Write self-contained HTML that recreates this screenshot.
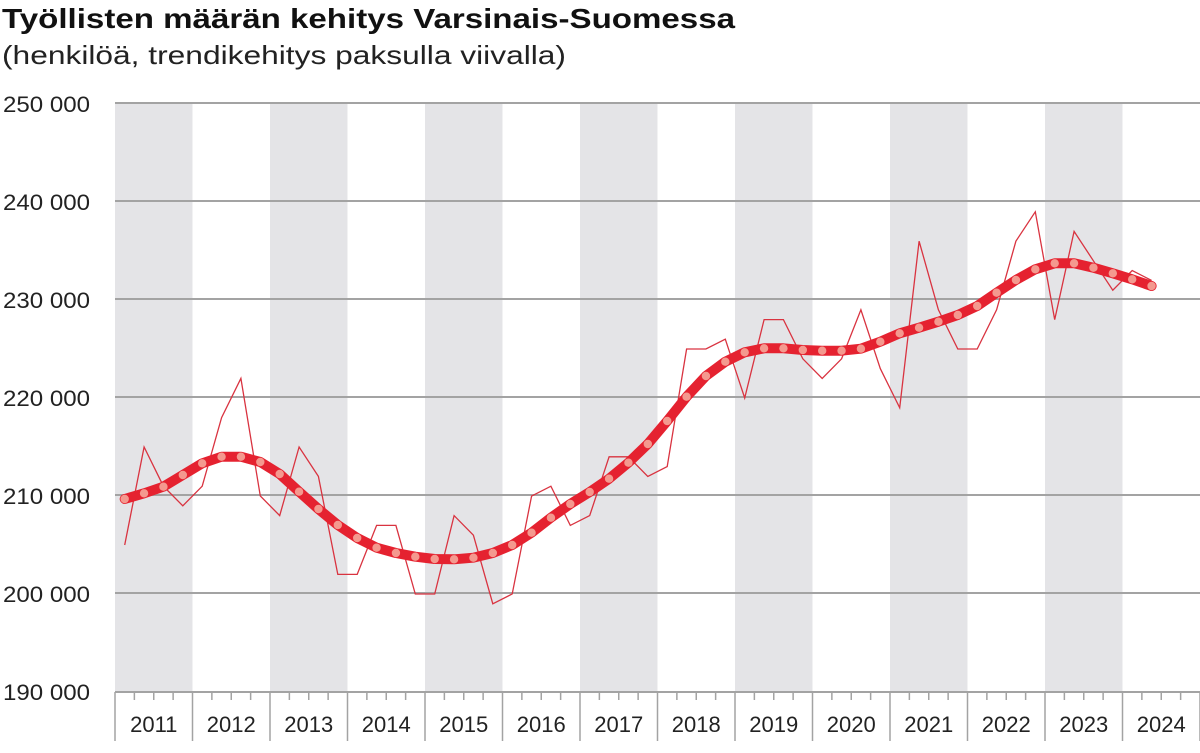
<!DOCTYPE html>
<html><head><meta charset="utf-8"><style>
html,body{margin:0;padding:0;background:#fff;}
svg{display:block;font-family:"Liberation Sans",sans-serif;}
</style></head><body>
<svg width="1200" height="753" viewBox="0 0 1200 753" xmlns="http://www.w3.org/2000/svg">
<rect width="1200" height="753" fill="#fff"/>
<text x="2" y="28" font-size="28" font-weight="bold" fill="#111" textLength="733" lengthAdjust="spacingAndGlyphs">Työllisten määrän kehitys Varsinais-Suomessa</text>
<text x="2" y="64" font-size="26" fill="#222" textLength="564" lengthAdjust="spacingAndGlyphs">(henkilöä, trendikehitys paksulla viivalla)</text>
<g fill="#e4e4e7">
<rect x="115" y="103" width="77.5" height="589"/>
<rect x="270" y="103" width="77.5" height="589"/>
<rect x="425" y="103" width="77.5" height="589"/>
<rect x="580" y="103" width="77.5" height="589"/>
<rect x="735" y="103" width="77.5" height="589"/>
<rect x="890" y="103" width="77.5" height="589"/>
<rect x="1045" y="103" width="77.5" height="589"/>
</g>
<g stroke="#a3a3a3" stroke-width="2">
<line x1="115" x2="1200" y1="103" y2="103"/>
<line x1="115" x2="1200" y1="201" y2="201"/>
<line x1="115" x2="1200" y1="299" y2="299"/>
<line x1="115" x2="1200" y1="397" y2="397"/>
<line x1="115" x2="1200" y1="495" y2="495"/>
<line x1="115" x2="1200" y1="593" y2="593"/>
<line x1="115" x2="1200" y1="692" y2="692"/>
</g>
<g font-size="22" fill="#222">
<text x="3" y="112" textLength="87" lengthAdjust="spacingAndGlyphs">250 000</text>
<text x="3" y="210" textLength="87" lengthAdjust="spacingAndGlyphs">240 000</text>
<text x="3" y="308" textLength="87" lengthAdjust="spacingAndGlyphs">230 000</text>
<text x="3" y="406" textLength="87" lengthAdjust="spacingAndGlyphs">220 000</text>
<text x="3" y="504" textLength="87" lengthAdjust="spacingAndGlyphs">210 000</text>
<text x="3" y="602" textLength="87" lengthAdjust="spacingAndGlyphs">200 000</text>
<text x="3" y="700" textLength="87" lengthAdjust="spacingAndGlyphs">190 000</text>
</g>
<g id="ticks" stroke="#a3a3a3" stroke-width="1.5"></g>
<g id="years" font-size="22" fill="#222" text-anchor="middle"></g>
<polyline id="raw" fill="none" stroke="#d93340" stroke-width="1.3" stroke-linejoin="miter"/>
<polyline id="trend" fill="none" stroke="#e52230" stroke-width="10" stroke-linejoin="round" stroke-linecap="round"/>
<g id="dots" fill="#f4998f"></g>
</svg>
<script>
const raw=[205,215,211,209,211,218,222,210,208,215,212,202,202,207,207,200,200,208,206,199,200,210,211,207,208,214,214,212,213,225,225,226,220,228,228,224,222,224,229,223,219,236,229,225,225,229,236,239,228,237,234,231,233,232];
const tr=[499,493.3,486.7,475,463.3,456.7,456.7,462,474,491.7,509,525,538,547.7,553,556.7,559,559.3,557.7,553,545,532.7,517.7,504,492,478.7,462.7,444,421,396.7,376,361.7,352.3,348.3,348.3,350,350.7,350.7,348.7,341.7,333.3,327.7,321.7,315,306,292.7,280,269.3,263.3,263.3,267.7,273.3,279.3,286];
const X=i=>115+(i+0.5)*19.375, Y=v=>692-(v-190)*9.8;
document.getElementById('raw').setAttribute('points',raw.map((v,i)=>X(i).toFixed(1)+','+Y(v).toFixed(1)).join(' '));
document.getElementById('trend').setAttribute('points',tr.map((v,i)=>X(i).toFixed(1)+','+v).join(' '));
const ns='http://www.w3.org/2000/svg';
let d=document.getElementById('dots');
tr.forEach((v,i)=>{let c=document.createElementNS(ns,'circle');c.setAttribute('cx',X(i));c.setAttribute('cy',v);c.setAttribute('r',4.2);d.appendChild(c);});
let t=document.getElementById('ticks'),yr=document.getElementById('years');
for(let k=0;k<=14;k++){let x=115+k*77.5;let l=document.createElementNS(ns,'line');l.setAttribute('x1',x);l.setAttribute('x2',x);l.setAttribute('y1',692);l.setAttribute('y2',741);t.appendChild(l);
 if(k<14){for(let q=1;q<4;q++){let m=document.createElementNS(ns,'line');let xx=x+q*19.375;m.setAttribute('x1',xx);m.setAttribute('x2',xx);m.setAttribute('y1',692);m.setAttribute('y2',700);t.appendChild(m);}
 let tx=document.createElementNS(ns,'text');tx.setAttribute('x',x+38.75);tx.setAttribute('y',732);tx.textContent=2011+k;yr.appendChild(tx);}}
</script>
</body></html>
